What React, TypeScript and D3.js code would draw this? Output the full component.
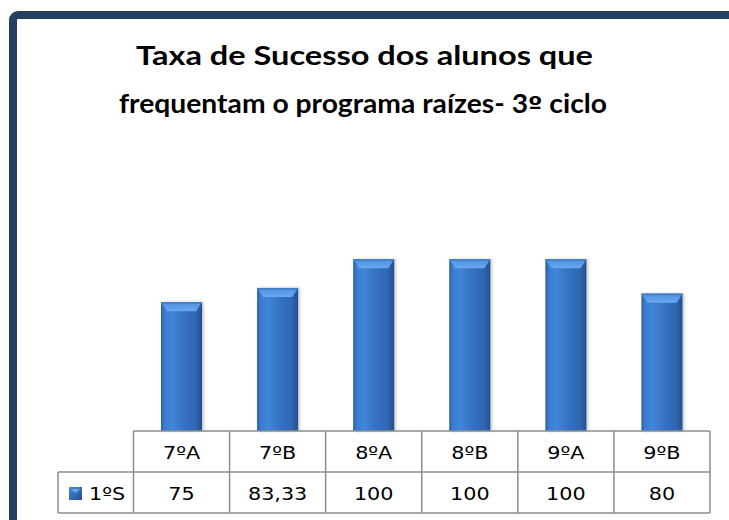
import React from "react";
import * as d3 from "d3";

const categories = ["7ºA", "7ºB", "8ºA", "8ºB", "9ºA", "9ºB"];
const values = [75, 83.33, 100, 100, 100, 80];
const valueLabels = ["75", "83,33", "100", "100", "100", "80"];
const seriesName = "1ºS";
const titleLines = ["Taxa de Sucesso dos alunos que", "frequentam o programa raízes- 3º ciclo"];

const W = 729;
const H = 520;

export default function App() {
  const x = d3
    .scaleBand<string>()
    .domain(categories)
    .range([133.5, 710])
    .paddingInner(0.573)
    .paddingOuter(0.2865);
  const y = d3.scaleLinear().domain([0, 120]).range([431, 225]);
  const step = x.step();
  const colEdges = categories.map((c) => x(c)! - (step - x.bandwidth()) / 2);
  const tableLeft = 133.5;
  const tableRight = 710;
  const rowTop = 431;
  const rowMid = 472;
  const rowBot = 513;
  const labelLeft = 58;
  const sx = 1.22;
  const fs = 17;
  const grid = "#8c8c8c";
  const tableFont = "'DejaVu Sans', sans-serif";

  return (
    <svg
      width={W}
      height={H}
      style={{ position: "absolute", left: 0, top: 0, display: "block" }}
      fontFamily="Lato, 'Open Sans', sans-serif"
    >
      <defs>
        <linearGradient id="barH" x1="0" x2="1" y1="0" y2="0">
          <stop offset="0%" stopColor="#2b5ca2" />
          <stop offset="8%" stopColor="#3a7bd0" />
          <stop offset="25%" stopColor="#3f86da" />
          <stop offset="50%" stopColor="#3875c6" />
          <stop offset="85%" stopColor="#2f66b0" />
          <stop offset="100%" stopColor="#234f8e" />
        </linearGradient>
        <linearGradient id="capV" x1="0" x2="0" y1="0" y2="1">
          <stop offset="0%" stopColor="#4f8fde" />
          <stop offset="100%" stopColor="#6aa8ee" />
        </linearGradient>
        <linearGradient id="legG" x1="0" x2="1" y1="0" y2="1">
          <stop offset="0%" stopColor="#4a8ae0" />
          <stop offset="100%" stopColor="#234f8e" />
        </linearGradient>
        <filter id="sh" x="-20%" y="-10%" width="140%" height="120%">
          <feDropShadow dx="1.5" dy="0" stdDeviation="1.5" floodColor="#000" floodOpacity="0.25" />
        </filter>
      </defs>
      <rect x={0} y={0} width={W} height={H} fill="#fff" />
      <rect
        x={13}
        y={15}
        width={W + 40}
        height={H + 40}
        rx={5}
        fill="none"
        stroke="#254061"
        strokeWidth={8}
      />
      {titleLines.map((t, i) => {
        const parts = t.split("º");
        return (
          <text
            key={i}
            x={i === 0 ? 136 : 119}
            y={i === 0 ? 65 : 113}
            fontSize={26.5}
            fontWeight="bold"
            fill="#000"
            textLength={i === 0 ? 457 : 488}
            lengthAdjust="spacingAndGlyphs"
          >
            {parts.map((p, j) => (
              <React.Fragment key={j}>
                {j > 0 && <tspan fontFamily={tableFont} fontSize={24}>º</tspan>}
                {p}
              </React.Fragment>
            ))}
          </text>
        );
      })}
      {categories.map((c, i) => {
        const bx = x(c)!;
        const bw = x.bandwidth();
        const top = y(values[i]);
        const bottom = y(0);
        return (
          <g key={c}>
            <rect x={bx} y={top} width={bw} height={bottom - top} fill="url(#barH)" filter="url(#sh)" />
            <path
              d={`M${bx},${top}L${bx + bw},${top}L${bx + bw - 6},${top + 9}L${bx + 6},${top + 9}Z`}
              fill="url(#capV)"
            />
            <rect x={bx} y={top} width={bw} height={1.5} fill="#3e7cc8" />
          </g>
        );
      })}
      <g stroke={grid} strokeWidth={1.5} fill="none">
        <line x1={tableLeft} x2={tableRight} y1={rowTop} y2={rowTop} />
        <line x1={labelLeft} x2={tableRight} y1={rowMid} y2={rowMid} />
        <line x1={labelLeft} x2={tableRight} y1={rowBot} y2={rowBot} />
        <line x1={labelLeft} x2={labelLeft} y1={rowMid} y2={rowBot} />
        {colEdges.map((e, i) => (
          <line key={i} x1={e} x2={e} y1={rowTop} y2={rowBot} />
        ))}
        <line x1={tableRight} x2={tableRight} y1={rowTop} y2={rowBot} />
      </g>
      {categories.map((c, i) => {
        const cx = x(c)! + x.bandwidth() / 2;
        return (
          <g key={c} fontFamily={tableFont}>
            <text
              transform={`translate(${cx},459) scale(${sx},1)`}
              textAnchor="middle"
              fontSize={fs}
              fill="#000"
            >
              {c}
            </text>
            <text
              transform={`translate(${cx},500) scale(${sx},1)`}
              textAnchor="middle"
              fontSize={fs}
              fill="#000"
            >
              {valueLabels[i]}
            </text>
          </g>
        );
      })}
      <rect x={69} y={487} width={13} height={13} fill="url(#legG)" />
      <path d="M71,489L80,489L75.5,493Z" fill="#6aa8ee" />
      <text
        transform={`translate(89,500) scale(${sx},1)`}
        fontSize={fs}
        fill="#000"
        fontFamily={tableFont}
      >
        {seriesName}
      </text>
    </svg>
  );
}
